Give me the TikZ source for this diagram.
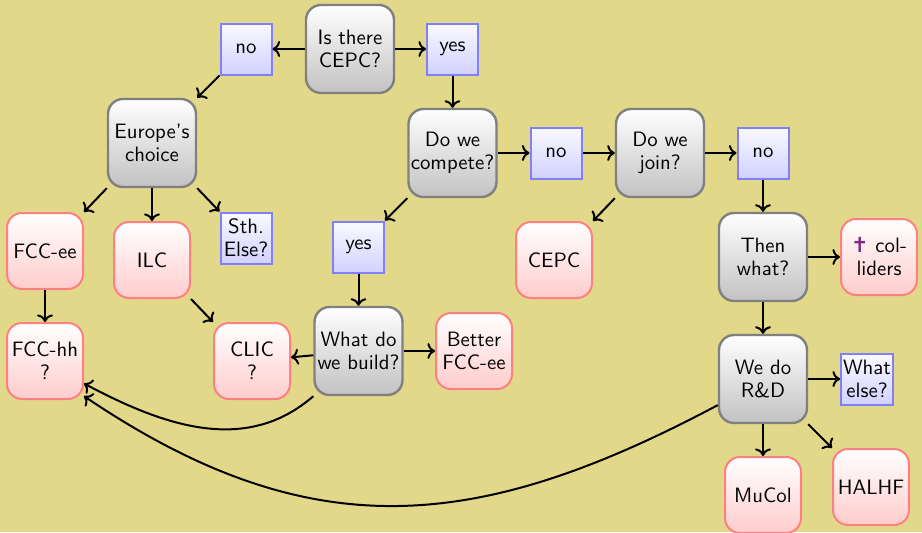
\documentclass[tikz,border=0pt]{standalone}
\usepackage{fontspec}
\usepackage{xcolor}
\usepackage{tikz}
\usetikzlibrary{arrows.meta}
\newfontfamily\crossfont{DejaVu Sans}
\definecolor{slidebg}{RGB}{226,216,137}
\definecolor{crosspurple}{RGB}{130,40,130}
\tikzset{
    question/.style={rectangle, rounded corners=7.5pt, draw=black!50, line width=1.2pt, top color=white, bottom color=black!24, align=center, minimum size=44pt, inner sep=1pt, font=\sffamily\fontsize{10.4}{11.5}\selectfont},
    collider/.style={rectangle, rounded corners=7.5pt, draw=red!50, line width=1pt, top color=white, bottom color=red!20, align=center, minimum size=38pt, inner sep=1pt, font=\sffamily\fontsize{10.4}{11.5}\selectfont},
    answer/.style={rectangle, draw=blue!50, line width=1pt, top color=blue!2, bottom color=blue!18, align=center, minimum size=25.5pt, inner sep=1pt, font=\sffamily\fontsize{10.4}{11.5}\selectfont},
    arrow/.style={-{To}, line width=1pt}
}

\begin{document}
\begin{tikzpicture}[x=0.5pt, y=0.5pt]
    % Background
    \fill[slidebg] (0,0) rectangle (922,532);
    \useasboundingbox (0,0) rectangle (922,532);

    % Questions
    \node[question] (there) at (350,483) {Is there\\CEPC?};
    \node[question] (europe) at (152,389) {Europe's\\choice};
    \node[question] (compete) at (452.5,379) {Do we\\compete?};
    \node[question] (join) at (660,379) {Do we\\join?};
    \node[question] (then) at (763,275) {Then\\what?};
    \node[question] (build) at (358.5,181) {What do\\we build?};
    \node[question] (rd) at (763,153) {We do\\R\&D};

    % Answers
    \node[answer] (noA) at (246,483) {no};
    \node[answer] (yesA) at (452.5,483) {yes};
    \node[answer] (noB) at (556,379) {no};
    \node[answer] (noC) at (763,379) {no};
    \node[answer] (yesB) at (358.5,285) {yes};
    \node[answer] (sth) at (246,294) {Sth.\\Else?};
    \node[answer] (whatelse) at (867,153) {What\\else?};

    % Colliders
    \node[collider] (fccee) at (45,281) {FCC-ee};
    \node[collider] (ilc) at (152,272) {ILC};
    \node[collider] (fcchh) at (45,171) {FCC-hh\\?};
    \node[collider] (clic) at (252,171) {CLIC\\?};
    \node[collider] (better) at (474,181) {Better\\FCC-ee};
    \node[collider] (cepc) at (554,272) {CEPC};
    \node[collider] (none) at (879,275) {{\crossfont\color{crosspurple}\char"271D} col-\\liders};
    \node[collider] (mucol) at (763,37) {MuCol};
    \node[collider] (halhf) at (871,45) {HALHF};

    % Top
    \draw[arrow] (there) -- (noA);
    \draw[arrow] (there) -- (yesA);
    \draw[arrow] (noA.south west) -- (europe.north east);
    \draw[arrow] (yesA) -- (compete);

    % Europe
    \draw[arrow] (europe.south west) -- (fccee.north east);
    \draw[arrow] (europe) -- (ilc);
    \draw[arrow] (europe.south east) -- (sth.north west);
    \draw[arrow] (fccee) -- (fcchh);
    \draw[arrow] (ilc.south east) -- (clic.north west);

    % Compete
    \draw[arrow] (compete) -- (noB);
    \draw[arrow] (noB) -- (join);
    \draw[arrow] (join) -- (noC);
    \draw[arrow] (compete.south west) -- (yesB.north east);
    \draw[arrow] (yesB) -- (build);
    \draw[arrow] (build) -- (clic);
    \draw[arrow] (build) -- (better);
    \draw[arrow] (join.south west) -- (cepc.north east);

    % Then what
    \draw[arrow] (noC) -- (then);
    \draw[arrow] (then) -- (none);
    \draw[arrow] (then) -- (rd);
    \draw[arrow] (rd) -- (whatelse);
    \draw[arrow] (rd) -- (mucol);
    \draw[arrow] (rd.south east) -- (halhf.north west);

    % Back to FCC-hh
    \draw[arrow] (build.south west) to[out=221, in=-28] (fcchh.-30);
    \draw[arrow] (rd.210) to[out=208, in=-34, looseness=1.1] (fcchh.-42);
\end{tikzpicture}
\end{document}
